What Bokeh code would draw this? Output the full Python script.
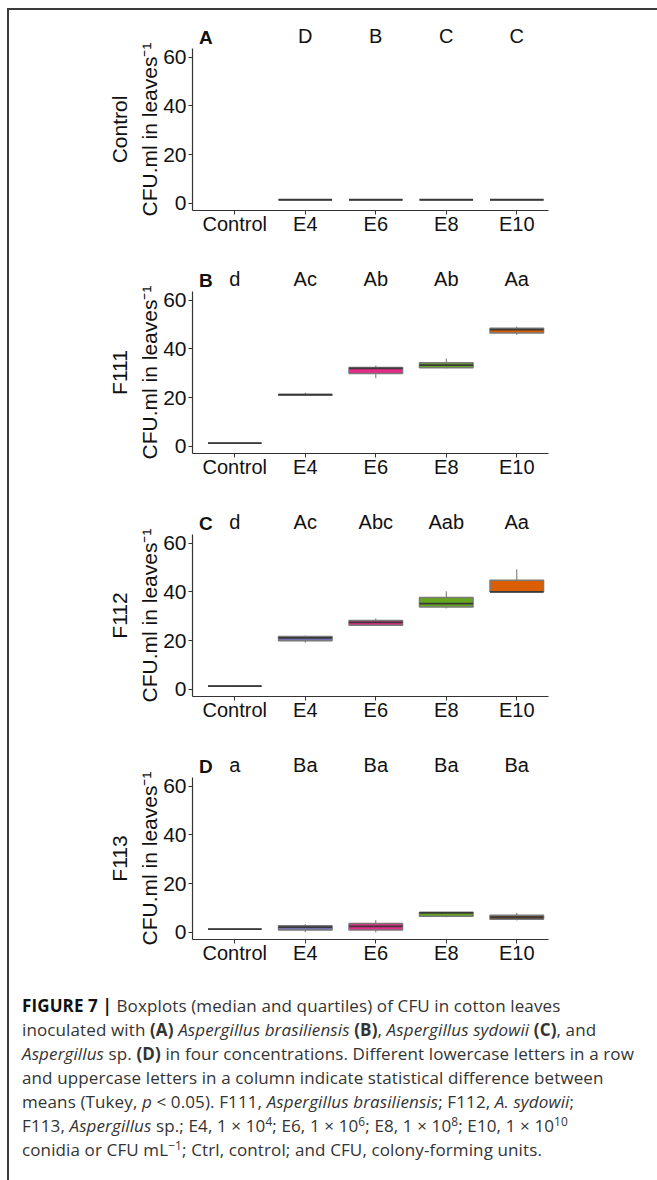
from bokeh.plotting import figure
from bokeh.models import Range1d, FixedTicker, LinearAxis, ColumnDataSource, Div
from bokeh.layouts import column
from bokeh.embed import file_html
from bokeh.resources import INLINE

NaN = float("nan")

categories = ["Control", "E4", "E6", "E8", "E10"]
y_ticks = [0, 20, 40, 60]
panel_tags = ["A", "B", "C", "D"]
row_names = ["Control", "F111", "F112", "F113"]

# Panel A (Control)
a_low = [NaN, 1.5, 1.5, 1.5, 1.5]
a_q1 = [NaN, 1.5, 1.5, 1.5, 1.5]
a_med = [NaN, 1.5, 1.5, 1.5, 1.5]
a_q3 = [NaN, 1.5, 1.5, 1.5, 1.5]
a_high = [NaN, 1.5, 1.5, 1.5, 1.5]
a_letters = ["", "D", "B", "C", "C"]

# Panel B (F111)
b_low = [1.2, 21.0, 28.0, 32.0, 45.7]
b_q1 = [1.35, 21.0, 29.9, 32.2, 46.5]
b_med = [1.35, 21.2, 32.0, 33.3, 47.9]
b_q3 = [1.35, 21.3, 32.4, 34.3, 48.4]
b_high = [1.6, 22.0, 33.1, 36.0, 49.1]
b_letters = ["d", "Ac", "Ab", "Ab", "Aa"]

# Panel C (F112)
c_low = [1.2, 19.2, 26.0, 33.2, 40.0]
c_q1 = [1.36, 20.0, 26.3, 33.8, 40.0]
c_med = [1.36, 21.1, 27.5, 35.2, 40.0]
c_q3 = [1.36, 21.7, 28.2, 37.7, 44.7]
c_high = [1.8, 22.1, 29.1, 40.2, 49.2]
c_letters = ["d", "Ac", "Abc", "Aab", "Aa"]

# Panel D (F113)
d_low = [1.2, 0.1, 0.0, 6.2, 4.9]
d_q1 = [1.35, 0.95, 0.95, 6.65, 5.4]
d_med = [1.35, 2.2, 2.45, 8.0, 6.2]
d_q3 = [1.35, 2.7, 3.7, 8.3, 7.06]
d_high = [1.6, 3.4, 5.0, 8.3, 8.0]
d_letters = ["a", "Ba", "Ba", "Ba", "Ba"]

colors_abc = ["#9a9a9a", "#7570b3", "#e7298a", "#66a61e", "#d95f02"]
colors_d = ["#9a9a9a", "#7570b3", "#e7298a", "#66a61e", "#6b4423"]

FONT = "Liberation Sans"
W = 648
H = 243
FRAME_H = 162
TOP = 38
TAG_X = -0.41


def make_panel(tag, row, low, q1, med, q3, high, letters, colors):
    xs = list(range(len(categories)))
    p = figure(width=W, height=H, x_range=Range1d(-0.6, 4.45),
               y_range=Range1d(-2.9, 63.5), output_backend="svg",
               toolbar_location=None, min_border_left=183, min_border_right=W - 183 - 356,
               min_border_top=TOP, min_border_bottom=H - TOP - FRAME_H)
    p.grid.visible = False
    p.outline_line_color = None

    src = ColumnDataSource(dict(x=xs, low=low, q1=q1, med=med, q3=q3, high=high,
                                color=colors, letter=letters))
    p.segment(x0="x", x1="x", y0="low", y1="q1", source=src, line_color="#6e6e6e", line_width=1)
    p.segment(x0="x", x1="x", y0="q3", y1="high", source=src, line_color="#6e6e6e", line_width=1)
    p.vbar(x="x", width=0.76, bottom="q1", top="q3", fill_color="color", line_color="#7a7a7a",
           line_width=1.5, source=src)
    p.vbar(x="x", width=0.76, bottom="med", top="med", fill_alpha=0, line_color="#3a3a3a",
           line_width=1.8, source=src)

    xa = p.xaxis[0]
    xa.ticker = FixedTicker(ticks=xs)
    xa.major_label_overrides = {i: c for i, c in enumerate(categories)}
    ya = p.yaxis[0]
    ya.ticker = FixedTicker(ticks=y_ticks)
    for ax in (xa, ya):
        ax.axis_line_color = "#333333"
        ax.axis_line_width = 1.2
        ax.major_tick_line_color = "#333333"
        ax.major_tick_out = 4
        ax.major_tick_in = 0
        ax.minor_tick_line_color = None
        ax.major_label_text_font = FONT
        ax.major_label_text_font_size = "20px"
        ax.major_label_text_color = "#111111"
    ya.major_label_text_font_size = "21px"
    xa.major_label_standoff = -2
    ya.major_label_standoff = 2
    ya.axis_label = "CFU.ml in leaves\u207b\u00b9"
    ya.axis_label_text_font = FONT
    ya.axis_label_text_font_size = "21px"
    ya.axis_label_text_font_style = "normal"
    ya.axis_label_text_color = "#111111"
    ya.axis_label_standoff = -1

    outer = LinearAxis(ticker=FixedTicker(ticks=[]), axis_line_color=None,
                       major_tick_line_color=None, minor_tick_line_color=None,
                       major_tick_out=0, major_tick_in=0, axis_label=row,
                       axis_label_text_font=FONT, axis_label_text_font_size="21px",
                       axis_label_text_font_style="normal", axis_label_text_color="#111111",
                       axis_label_standoff=5)
    p.add_layout(outer, "left")

    # significance letters above each box
    letters_axis = LinearAxis(ticker=FixedTicker(ticks=xs),
                              major_label_overrides={i: t for i, t in enumerate(letters)},
                              axis_line_color=None, major_tick_line_color=None,
                              minor_tick_line_color=None, major_tick_out=0, major_tick_in=0,
                              major_label_standoff=2, major_label_text_font=FONT,
                              major_label_text_font_size="20px",
                              major_label_text_color="#111111")
    p.add_layout(letters_axis, "above")

    # bold panel tag on the same line
    tag_axis = LinearAxis(ticker=FixedTicker(ticks=[TAG_X]),
                          major_label_overrides={TAG_X: tag},
                          axis_line_color=None, major_tick_line_color=None,
                          minor_tick_line_color=None, major_tick_out=0, major_tick_in=0,
                          major_label_standoff=-26, major_label_text_font=FONT,
                          major_label_text_font_size="19px",
                          major_label_text_font_style="bold",
                          major_label_text_color="#111111")
    p.add_layout(tag_axis, "above")
    return p


pa = make_panel(panel_tags[0], row_names[0], a_low, a_q1, a_med, a_q3, a_high, a_letters, colors_abc)
pb = make_panel(panel_tags[1], row_names[1], b_low, b_q1, b_med, b_q3, b_high, b_letters, colors_abc)
pc = make_panel(panel_tags[2], row_names[2], c_low, c_q1, c_med, c_q3, c_high, c_letters, colors_abc)
pd = make_panel(panel_tags[3], row_names[3], d_low, d_q1, d_med, d_q3, d_high, d_letters, colors_d)

SUP = '<sup style="line-height:0; font-size:70%; vertical-align:0; position:relative; top:-0.5em;">'
caption_html = (
    '<div style="font-family: \'Open Sans\', sans-serif; font-size: 17px; letter-spacing: 0.12px; '
    'line-height: 24px; color: #333; white-space: nowrap; padding: 7px 0 0 8px;">'
    '<b style="color:#111">FIGURE 7 |</b> Boxplots (median and quartiles) of CFU in cotton leaves<br>'
    'inoculated with <b>(A)</b> <i>Aspergillus brasiliensis</i> <b>(B)</b>, '
    '<i>Aspergillus sydowii</i> <b>(C)</b>, and<br>'
    '<i>Aspergillus</i> sp. <b>(D)</b> in four concentrations. Different lowercase letters in a row<br>'
    'and uppercase letters in a column indicate statistical difference between<br>'
    'means (Tukey, <i>p</i> &lt; 0.05). F111, <i>Aspergillus brasiliensis</i>; F112, <i>A. sydowii</i>;<br>'
    'F113, <i>Aspergillus</i> sp.; E4, 1 \u00d7 10' + SUP + '4</sup>; E6, 1 \u00d7 10' + SUP + '6</sup>; '
    'E8, 1 \u00d7 10' + SUP + '8</sup>; E10, 1 \u00d7 10' + SUP + '10</sup><br>'
    'conidia or CFU mL' + SUP + '\u22121</sup>; Ctrl, control; and CFU, colony-forming units.'
    '</div>'
)
caption = Div(text=caption_html, width=W, height=196)

layout = column(pa, pb, pc, pd, caption, spacing=0,
                styles={"border-top": "2px solid #3a3a3a", "border-left": "2px solid #3a3a3a",
                        "margin-top": "8px", "margin-left": "7px"})

open("out.html", "w").write(file_html(layout, INLINE))
